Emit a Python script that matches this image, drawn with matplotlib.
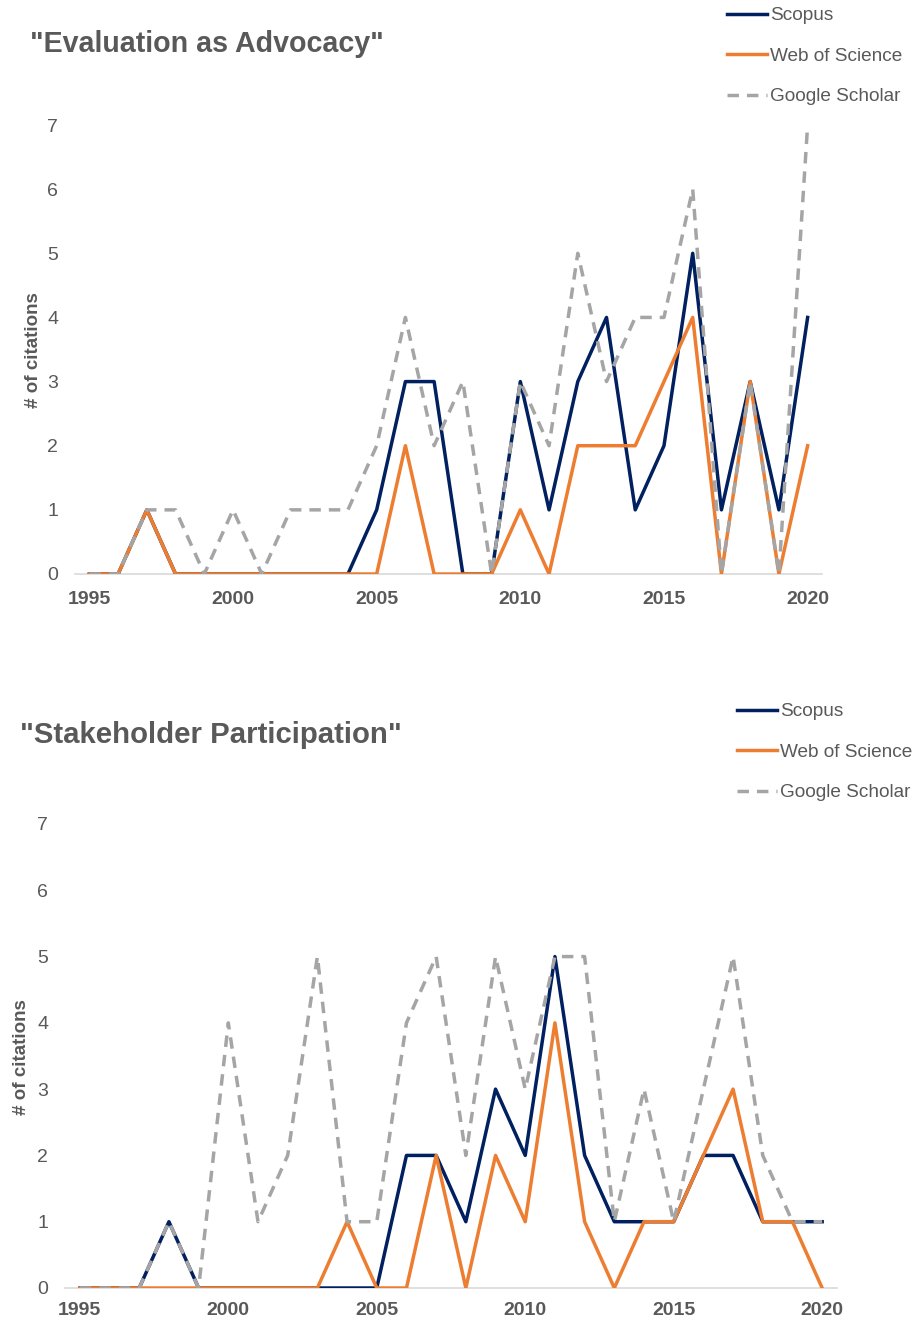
import matplotlib
matplotlib.use("Agg")
import matplotlib.pyplot as plt
import numpy as np

plt.rcParams['font.family'] = ['Liberation Sans', 'DejaVu Sans']

years = list(range(1995, 2021))

# Chart 1: "Evaluation as Advocacy"
adv_scopus = [0, 0, 1, 0, 0, 0, 0, 0, 0, 0, 1, 3, 3, 0, 0, 3, 1, 3, 4, 1, 2, 5, 1, 3, 1, 4]
adv_wos    = [0, 0, 1, 0, 0, 0, 0, 0, 0, 0, 0, 2, 0, 0, 0, 1, 0, 2, 2, 2, 3, 4, 0, 3, 0, 2]
adv_gs     = [0, 0, 1, 1, 0, 1, 0, 1, 1, 1, 2, 4, 2, 3, 0, 3, 2, 5, 3, 4, 4, 6, 0, 3, 0, 7]

# Chart 2: "Stakeholder Participation"
stk_scopus = [0, 0, 0, 1, 0, 0, 0, 0, 0, 0, 0, 2, 2, 1, 3, 2, 5, 2, 1, 1, 1, 2, 2, 1, 1, 1]
stk_wos    = [0, 0, 0, 0, 0, 0, 0, 0, 0, 1, 0, 0, 2, 0, 2, 1, 4, 1, 0, 1, 1, 2, 3, 1, 1, 0]
stk_gs     = [0, 0, 0, 1, 0, 4, 1, 2, 5, 1, 1, 4, 5, 2, 5, 3, 5, 5, 1, 3, 1, 3, 5, 2, 1, 1]

titles = ['"Evaluation as Advocacy"', '"Stakeholder Participation"']
series_names = ["Scopus", "Web of Science", "Google Scholar"]
xticks = [1995, 2000, 2005, 2010, 2015, 2020]
yticks = list(range(0, 8))

C_SCOPUS = "#002060"
C_WOS = "#ED7D31"
C_GS = "#A5A5A5"
C_TEXT = "#595959"
C_AXIS = "#D9D9D9"

W, H = 922, 1320
fig = plt.figure(figsize=(W / 100, H / 100), dpi=100)

def px_box(left, right, top, bottom):
    return [left / W, 1 - bottom / H, (right - left) / W, (bottom - top) / H]

specs = [
    dict(box=px_box(75, 822, 125, 574), data=(adv_scopus, adv_wos, adv_gs),
         title_xy=(30, 44), title_fs=20.6, ylabel_xy=(33, 350), leg_xy=(727, 7),
         xpad=12),
    dict(box=px_box(65, 837, 824, 1288), data=(stk_scopus, stk_wos, stk_gs),
         title_xy=(20, 735), title_fs=21.2, ylabel_xy=(22, 1057), leg_xy=(737, 703),
         xpad=10),
]

for spec, title in zip(specs, titles):
    ax = fig.add_axes(spec['box'])
    s, w, g = spec['data']
    ax.plot(years, s, color=C_SCOPUS, lw=2.5, label=series_names[0], zorder=3)
    ax.plot(years, w, color=C_WOS, lw=2.5, label=series_names[1], zorder=4)
    ax.plot(years, g, color=C_GS, lw=2.5, ls=(0, (3.3, 2.3)), label=series_names[2], zorder=5)
    ax.set_xlim(1994.5, 2020.5)
    ax.set_ylim(0, 7)
    ax.set_xticks(xticks)
    ax.set_yticks(yticks)
    ax.set_xticklabels([str(x) for x in xticks], fontsize=14, fontweight='bold', color=C_TEXT)
    ax.set_yticklabels([str(y) for y in yticks], fontsize=14, color=C_TEXT)
    ax.tick_params(axis='both', length=0)
    ax.tick_params(axis='x', pad=spec['xpad'])
    ax.tick_params(axis='y', pad=12)
    for sp in ['top', 'right', 'left']:
        ax.spines[sp].set_visible(False)
    ax.spines['bottom'].set_color(C_AXIS)
    ax.spines['bottom'].set_linewidth(1.2)
    ax.spines['bottom'].set_zorder(1)
    ax.patch.set_alpha(0)

    tx, ty = spec['title_xy']
    fig.text(tx / W, 1 - ty / H, title, fontsize=spec['title_fs'], fontweight='bold', color=C_TEXT,
             ha='left', va='center')
    lx, ly = spec['ylabel_xy']
    fig.text(lx / W, 1 - ly / H, "# of citations", fontsize=13.5, fontweight='bold', color=C_TEXT,
             rotation=90, ha='center', va='center')
    gx, gy = spec['leg_xy']
    leg = ax.legend(loc='upper left', bbox_to_anchor=(gx / W, 1 - gy / H),
                    bbox_transform=fig.transFigure, frameon=False, fontsize=13.7,
                    handlelength=2.1, handletextpad=0.15, labelspacing=1.22,
                    borderpad=0, borderaxespad=0)
    for t in leg.get_texts():
        t.set_color(C_TEXT)

fig.savefig("out.png", dpi=100)
